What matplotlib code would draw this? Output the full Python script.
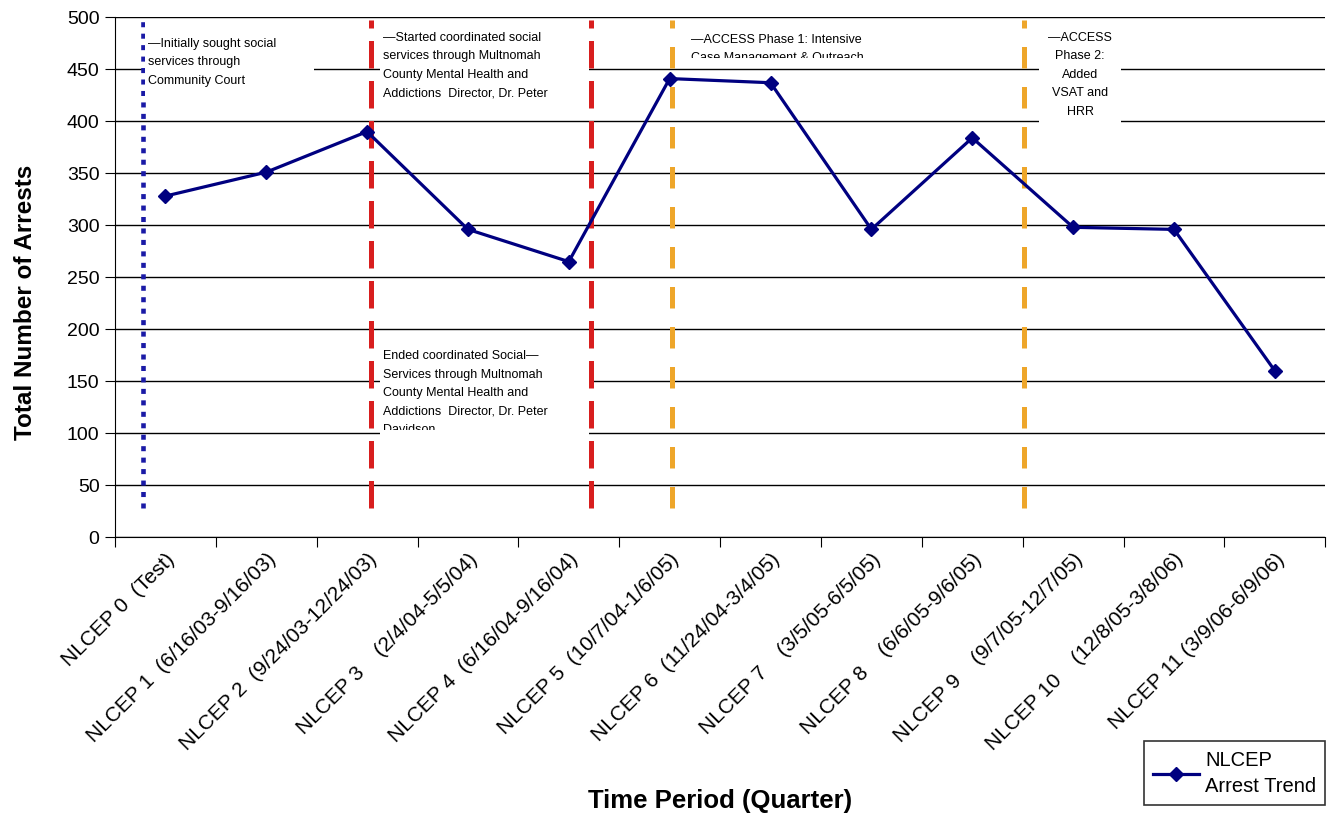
import matplotlib
matplotlib.use('Agg')
import matplotlib.pyplot as plt
from matplotlib.patches import Rectangle
from matplotlib.transforms import Bbox, TransformedBbox
import numpy as np

plt.rcParams['font.family'] = ['Liberation Sans', 'DejaVu Sans']

# Data
periods = ['NLCEP 0  (Test)', 'NLCEP 1  (6/16/03-9/16/03)', 'NLCEP 2  (9/24/03-12/24/03)',
           'NLCEP 3    (2/4/04-5/5/04)', 'NLCEP 4  (6/16/04-9/16/04)', 'NLCEP 5  (10/7/04-1/6/05)',
           'NLCEP 6  (11/24/04-3/4/05)', 'NLCEP 7    (3/5/05-6/5/05)', 'NLCEP 8    (6/6/05-9/6/05)',
           'NLCEP 9    (9/7/05-12/7/05)', 'NLCEP 10    (12/8/05-3/8/06)', 'NLCEP 11 (3/9/06-6/9/06)']
arrests = [328, 351, 390, 296, 265, 441, 437, 296, 384, 298, 296, 160]

# event markers (category positions)
event_x = [-0.22, 2.04, 4.22, 5.02, 8.51]
event_colors = ['#1a1aa6', '#d81e1e', '#d81e1e', '#eea62a', '#eea62a']
event_styles = [(0, (1.1, 1.4)), (0, (5.5, 2.5)), (0, (5.5, 2.5)), (0, (4.3, 3.7)), (0, (4.3, 3.7))]

# text x, text top, align, box x0, x1, y0, y1, text clipped below this value, text
notes = [
    (-0.17, 480, 'left', -0.2, 1.47, 423, 497, 423,
     '\u2014Initially sought social\nservices through\nCommunity Court'),
    (2.16, 486, 'left', 2.13, 4.2, 409, 497, 409,
     '\u2014Started coordinated social\nservices through Multnomah\nCounty Mental Health and\nAddictions  Director, Dr. Peter'),
    (2.16, 180, 'left', 2.13, 4.2, 90, 190, 103,
     'Ended coordinated Social\u2014\nServices through Multnomah\nCounty Mental Health and\nAddictions  Director, Dr. Peter\nDavidson'),
    (5.21, 484, 'left', 5.16, 7.39, 458, 497, 461,
     '\u2014ACCESS Phase 1: Intensive\nCase Management & Outreach'),
    (9.07, 486, 'center', 8.66, 9.47, 393, 497, 393,
     '\u2014ACCESS\nPhase 2:\nAdded\nVSAT and\nHRR'),
]

fig = plt.figure(figsize=(13.36, 8.19), dpi=100)
ax = fig.add_axes([0.086, 0.344, 0.906, 0.635])

x = np.arange(len(arrests))
ax.set_xlim(-0.5, len(arrests) - 0.5)
ax.set_ylim(0, 500)
ax.set_yticks(np.arange(0, 501, 50))
ax.yaxis.grid(True, color='black', linewidth=1)
ax.set_axisbelow(True)

for spine in ['top', 'right']:
    ax.spines[spine].set_visible(False)
ax.spines['left'].set_color('black')
ax.spines['bottom'].set_color('black')

ax.set_xticks(np.arange(-0.5, len(arrests), 1.0))
ax.set_xticklabels([])
ax.set_xticks(x, minor=True)
ax.set_xticklabels(periods, minor=True, rotation=45, ha='right',
                   rotation_mode='anchor', fontsize=15)
ax.tick_params(axis='x', which='minor', length=0, pad=9)
ax.tick_params(axis='x', which='major', length=7, direction='out')
ax.tick_params(axis='y', length=7, labelsize=14, direction='out', pad=4)

for xv, c, ls in zip(event_x, event_colors, event_styles):
    lw = 3.3 if c == '#1a1aa6' else 3.6
    ax.plot([xv, xv], [28, 497], color=c, linestyle=ls, linewidth=lw,
            dash_capstyle='butt', zorder=2)

for tx, ty, ha, x0, x1, y0, y1, yc, txt in notes:
    rect = Rectangle((x0, y0), x1 - x0, y1 - y0, facecolor='white', edgecolor='none', zorder=3)
    ax.add_patch(rect)
    t = ax.text(tx, ty, txt, ha=ha, va='top', fontsize=9, linespacing=1.72, zorder=4)
    t.set_clip_box(TransformedBbox(Bbox([[x0, yc], [x1, y1]]), ax.transData))
    t.set_clip_on(True)

ax.plot(x, arrests, color='#000080', linewidth=2.3, marker='D', markersize=7,
        label='NLCEP\nArrest Trend', zorder=5)

fig.text(0.019, 0.631, 'Total Number of Arrests', fontsize=17.5, fontweight='bold',
         rotation=90, ha='center', va='center')
fig.text(0.539, 0.022, 'Time Period (Quarter)', fontsize=18.5, fontweight='bold',
         ha='center', va='center')

leg = fig.legend(loc='lower right', bbox_to_anchor=(0.992, 0.017), fontsize=14.5,
                 fancybox=False, edgecolor='black', handlelength=2.3, borderpad=0.45,
                 borderaxespad=0, handletextpad=0.3)
leg.get_frame().set_linewidth(1.2)
for t in leg.get_texts():
    t.set_linespacing(1.5)

fig.savefig('out.png', dpi=100)
